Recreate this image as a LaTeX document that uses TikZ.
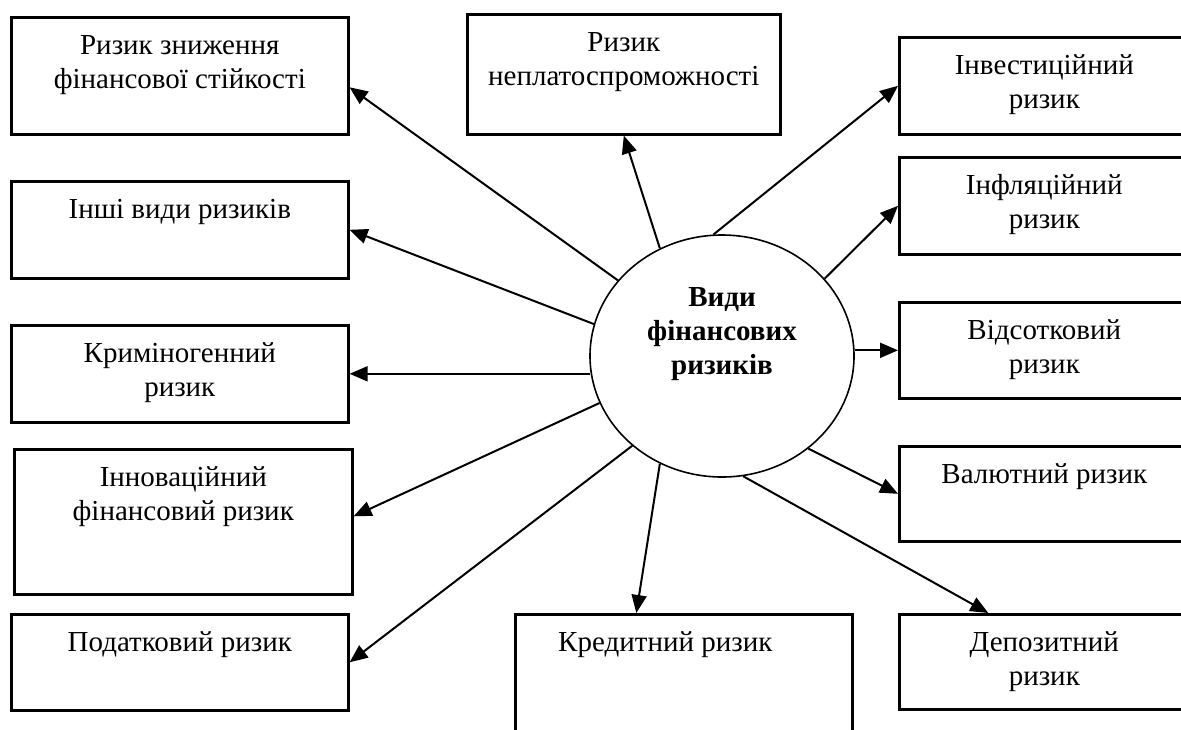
\documentclass[tikz,border=0pt]{standalone}
\usepackage{fontspec}
\setmainfont{Liberation Serif}
\usetikzlibrary{arrows.meta,shapes.geometric}

\newcommand{\boxtext}[3]{\parbox[c][#2][t]{#1}{\centering\vspace*{6.5pt}\strut #3}}

\begin{document}
\begin{tikzpicture}[x=0.5pt,y=-0.5pt,
  every node/.style={font=\fontsize{14.5}{17}\selectfont},
  riskbox/.style={rectangle,draw,line width=1.3pt,inner sep=0pt,anchor=north west},
  arr/.style={-{Triangle[length=9pt,width=7.5pt]},line width=1pt}]
  \useasboundingbox (0,0) rectangle (1181,729);
  \node[riskbox] (znyzh) at (10,16) {\boxtext{168.5pt}{58.5pt}{Ризик зниження\\фінансової стійкості}};
  \node[riskbox] (inshi) at (10,180) {\boxtext{168.5pt}{48.5pt}{Інші види ризиків}};
  \node[riskbox] (krymin) at (10,324) {\boxtext{168.5pt}{48.5pt}{Криміногенний\\ризик}};
  \node[riskbox] (innov) at (13,448) {\boxtext{169pt}{72.5pt}{Інноваційний\\фінансовий ризик}};
  \node[riskbox] (podat) at (10,613) {\boxtext{168.5pt}{48pt}{Податковий ризик}};
  \node[riskbox] (neplat) at (466,13) {\boxtext{156.5pt}{60pt}{Ризик\\неплатоспроможності}};
  \node[riskbox] (kredyt) at (514,613) {\boxtext{168.5pt}{75pt}{\hspace*{-18.5pt}Кредитний ризик}};
  \node[riskbox] (invest) at (898,36) {\boxtext{145pt}{48.5pt}{Інвестиційний\\ризик}};
  \node[riskbox] (inflat) at (898,156) {\boxtext{145pt}{48.5pt}{Інфляційний\\ризик}};
  \node[riskbox] (vidsot) at (898,301) {\boxtext{145pt}{48pt}{Відсотковий\\ризик}};
  \node[riskbox] (valut) at (898,445) {\boxtext{145pt}{47.5pt}{Валютний ризик}};
  \node[riskbox] (depoz) at (898,613) {\boxtext{145pt}{47.5pt}{Депозитний\\ризик}};
  \node[draw,ellipse,line width=0.8pt,minimum width=132pt,minimum height=121pt,inner sep=0pt] (vydy) at (722,356) {};
  \node[font=\fontsize{14.5}{17}\selectfont\bfseries,align=center] (vydytxt) at (722,334) {Види\\фінансових\\ризиків};
  \draw[arr] (vydy.144.8) -- ([yshift=-5.75pt]znyzh.east);
  \draw[arr] (vydy.166.8) -- (inshi.east);
  \draw[arr] (vydy.187 |- krymin.east) -- (krymin.east);
  \draw[arr] (vydy.201) -- ([yshift=2.75pt]innov.east);
  \draw[arr] (vydy.225.6) -- (podat.east);
  \draw[arr] (vydy.240.3) -- ([xshift=-23.75pt]kredyt.north);
  \draw[arr] (vydy.280) -- ([xshift=-28pt]depoz.north);
  \draw[arr] (vydy.313.4) -- (valut.west);
  \draw[arr] (vydy.3 |- vidsot.west) -- (vidsot.west);
  \draw[arr] (vydy.37) -- (inflat.west);
  \draw[arr] (vydy.94.6) -- (invest.west);
  \draw[arr] (vydy.120) -- (neplat.south);
\end{tikzpicture}
\end{document}
